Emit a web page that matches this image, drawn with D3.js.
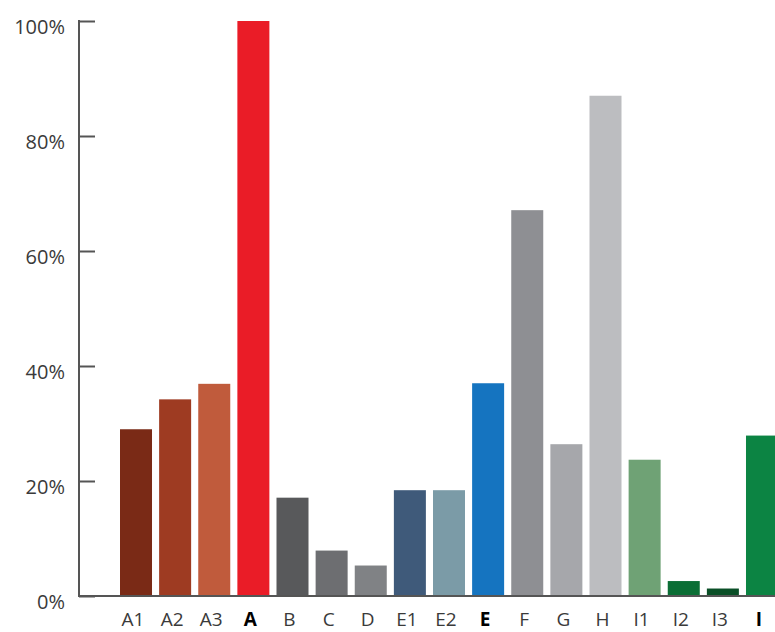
<!DOCTYPE html>
<html>
<head>
<meta charset="utf-8">
<script src="https://cdn.jsdelivr.net/npm/d3@7"></script>
<style>
  html, body { margin: 0; padding: 0; background: #fff; }
  svg { display: block; }
</style>
</head>
<body>
<svg id="chart" width="775" height="632"></svg>
<script>
const categories = ["A1","A2","A3","A","B","C","D","E1","E2","E","F","G","H","I1","I2","I3","I"];
const values = [29.0, 34.2, 36.9, 100, 17.1, 7.9, 5.3, 18.4, 18.4, 37.0, 67.1, 26.4, 87.0, 23.7, 2.6, 1.3, 27.9];
const colors = ["#7a2a16","#9e3b22","#c05b3c","#ea1c27","#58595b","#6d6e71","#808285","#3f5a7a","#7b9ba7","#1574c0","#8e8f93","#a6a7ab","#bcbdc0","#6fa275","#0b6e35","#0a4f27","#0c8443"];
const boldCats = ["A","E","I"];
const yTicks = [0, 20, 40, 60, 80, 100];

const svg = d3.select("#chart");
const x0 = 79, yBase = 596, yTop = 21;

const x = d3.scaleBand()
  .domain(categories)
  .range([x0, 819])
  .paddingInner(0.182)
  .paddingOuter(1.048);

const y = d3.scaleLinear().domain([0, 100]).range([yBase, yTop]);

// bars
svg.append("g").selectAll("rect")
  .data(categories)
  .join("rect")
  .attr("x", d => x(d))
  .attr("width", x.bandwidth())
  .attr("y", (d, i) => y(values[i]))
  .attr("height", (d, i) => yBase - y(values[i]))
  .attr("fill", (d, i) => colors[i]);

// y axis
const yAxis = d3.axisRight(y).tickValues(yTicks).tickSize(16).tickFormat("");
const gy = svg.append("g").attr("transform", `translate(${x0},0)`).call(yAxis);
gy.select(".domain").remove();
gy.selectAll(".tick line").attr("stroke", "#555").attr("stroke-width", 2);
svg.append("line")
  .attr("x1", x0).attr("x2", x0)
  .attr("y1", yTop - 1).attr("y2", yBase + 1)
  .attr("stroke", "#555").attr("stroke-width", 2);

// y labels
svg.append("g").selectAll("text")
  .data(yTicks)
  .join("text")
  .attr("x", 65)
  .attr("y", d => y(d) + 13)
  .attr("text-anchor", "end")
  .attr("font-family", "'Open Sans', sans-serif")
  .attr("font-size", 20)
  .attr("fill", "#3a3a3a")
  .text(d => d + "%");

// baseline
svg.append("line")
  .attr("x1", x0 - 1).attr("x2", 775)
  .attr("y1", yBase).attr("y2", yBase)
  .attr("stroke", "#555").attr("stroke-width", 2);

// x labels
svg.append("g").selectAll("text")
  .data(categories)
  .join("text")
  .attr("x", d => x(d) + x.bandwidth() / 2 - 3)
  .attr("y", 626)
  .attr("text-anchor", "middle")
  .attr("font-family", "'Open Sans', sans-serif")
  .attr("font-size", 19)
  .attr("font-weight", d => boldCats.includes(d) ? "bold" : "normal")
  .attr("fill", d => boldCats.includes(d) ? "#000" : "#3a3a3a")
  .text(d => d);
</script>
</body>
</html>
